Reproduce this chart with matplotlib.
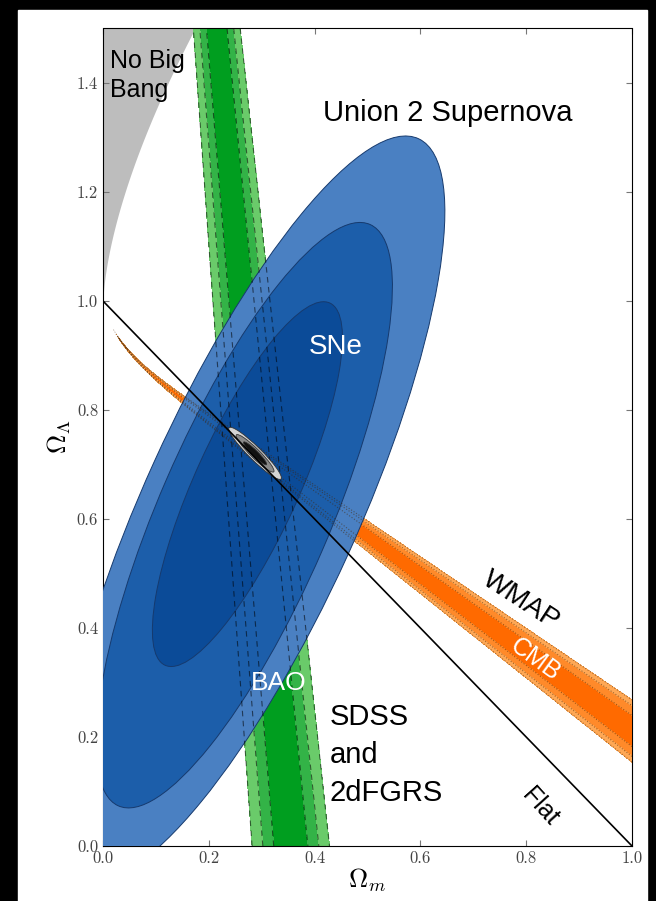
import numpy as np
import matplotlib
matplotlib.use("Agg")
import matplotlib.pyplot as plt
from matplotlib.patches import Ellipse, Rectangle

plt.rcParams['mathtext.fontset'] = 'cm'
plt.rcParams['axes.formatter.use_mathtext'] = True

# Union 2 supernovae: outer, middle, inner contour (centre, semi-axes, tilt)
sne_om = [0.280, 0.267, 0.273]
sne_ol = [0.620, 0.607, 0.664]
sne_major = [0.748, 0.584, 0.367]
sne_minor = [0.202, 0.161, 0.098]
sne_angle = [64.9, 65.9, 64.8]
sne_colors = ['#4a80c2', '#1c5eaa', '#0b4b98']

# BAO band: centre Om = x0 + slope*OL, width a fixed fraction of the centre
bao_x0 = 0.355
bao_slope = -0.0933
bao_frac = 0.060
bao_colors = ['#009e1f', '#33b347', '#6acb6a']

# WMAP band: centre OL = a + b*Om + c*exp(-Om/d), width grows from the tip
cmb_line = [0.926, -0.715]
cmb_curl = [0.057, 0.04]
cmb_tip = 0.017
cmb_k = 0.0169
cmb_colors = ['#ff6a00', '#ff8a2a', '#ffa855']

# combined fit
comb_om, comb_ol = 0.2875, 0.7205
comb_major, comb_minor, comb_angle = 0.068, 0.012, -43.8
comb_scale = [1.0, 0.72, 0.44]
comb_colors = ['#d4d4d4', '#8a8a8a', '#111111']

# delta chi^2 contour levels
levels = [0.0, 2.30, 6.17, 11.8]
cmb_levels = [0.0, 2.95, 7.9, 11.8]

xticks = [0.0, 0.2, 0.4, 0.6, 0.8, 1.0]
yticks = [0.0, 0.2, 0.4, 0.6, 0.8, 1.0, 1.2, 1.4]

fig = plt.figure(figsize=(6.56, 9.01), dpi=100, facecolor='black')
fig.patches.append(Rectangle((18 / 656, 0), 629 / 656, 891 / 901,
                             transform=fig.transFigure, color='white', zorder=-5))
ax = fig.add_axes([103 / 656, 55 / 901, 529 / 656, 817.5 / 901])

om = np.linspace(0, 1, 801)
ol = np.linspace(0, 1.5, 1201)
OM, OL = np.meshgrid(om, ol)

# no big bang region
omb = np.linspace(1e-4, 0.25, 400)
nbb = 4 * omb * np.cosh(np.arccosh((1 - omb) / omb) / 3) ** 3
ax.fill_between(omb, nbb, 1.6, color='#bdbdbd', lw=0, zorder=1)

# BAO
bc = bao_x0 + bao_slope * OL
chi_bao = ((OM - bc) / (bao_frac * bc)) ** 2
ax.contourf(OM, OL, chi_bao, levels=levels, colors=bao_colors, zorder=2)

# CMB
cc = cmb_line[0] + cmb_line[1] * OM + cmb_curl[0] * np.exp(-OM / cmb_curl[1])
sig = cmb_k * (OM - cmb_tip)
chi_cmb = np.where(OM > cmb_tip, ((OL - cc) / np.where(sig > 0, sig, 1)) ** 2, 1e3)
ax.contourf(OM, OL, chi_cmb, levels=cmb_levels, colors=cmb_colors, zorder=3)

# supernovae
for x, y, a, b, ang, c in zip(sne_om, sne_ol, sne_major, sne_minor, sne_angle, sne_colors):
    ax.add_patch(Ellipse((x, y), 2 * a, 2 * b, angle=ang, facecolor=c,
                         edgecolor='#163a6e', lw=0.7, zorder=4))

# contour outlines on top
ax.contour(OM, OL, chi_bao, levels=levels[1:], colors='k', linestyles=[(0, (5, 4))],
           linewidths=0.8, alpha=0.55, zorder=5)
ax.contour(OM, OL, chi_cmb, levels=cmb_levels[1:], colors='#442200', linestyles=':',
           linewidths=0.8, alpha=0.5, zorder=5)

# combined
for s, c in zip(comb_scale, comb_colors):
    ax.add_patch(Ellipse((comb_om, comb_ol), 2 * comb_major * s, 2 * comb_minor * s,
                         angle=comb_angle, facecolor=c, edgecolor='#333333',
                         lw=0.6, zorder=6))

# flat universe
ax.plot(om, 1 - om, color='k', lw=1.2, zorder=7)

lab = dict(family='Liberation Sans', zorder=8)
ax.text(0.013, 1.462, 'No Big\nBang', fontsize=18, ha='left', va='top', linespacing=1.25, **lab)
ax.text(0.415, 1.345, 'Union 2 Supernova', fontsize=21, ha='left', va='center', **lab)
ax.text(0.44, 0.915, 'SNe', fontsize=20, color='white', ha='center', va='center', **lab)
ax.text(0.333, 0.299, 'BAO', fontsize=19, color='white', ha='center', va='center', **lab)
ax.text(0.790, 0.451, 'WMAP', fontsize=20, rotation=-33, ha='center', va='center', **lab)
ax.text(0.818, 0.342, 'CMB', fontsize=18, color='white', rotation=-36, ha='center', va='center', **lab)
ax.text(0.429, 0.262, 'SDSS\nand\n2dFGRS', fontsize=21, ha='left', va='top', linespacing=1.45, **lab)
ax.text(0.826, 0.072, 'Flat', fontsize=18, rotation=-48, ha='center', va='center', **lab)

ax.set_xlim(0, 1)
ax.set_ylim(0, 1.5)
ax.set_xticks(xticks)
ax.set_yticks(yticks)
ax.set_xticklabels(['%.1f' % t for t in xticks], family='cmr10', fontsize=12, color='#444444')
ax.set_yticklabels(['%.1f' % t for t in yticks], family='cmr10', fontsize=12, color='#444444')
ax.tick_params(direction='in', length=4, color='#777777', top=True, right=True)
ax.set_xlabel(r'$\Omega_m$', fontsize=19, labelpad=0)
ax.set_ylabel(r'$\Omega_\Lambda$', fontsize=19, labelpad=3)

fig.savefig('out.png', dpi=100, facecolor='black')
